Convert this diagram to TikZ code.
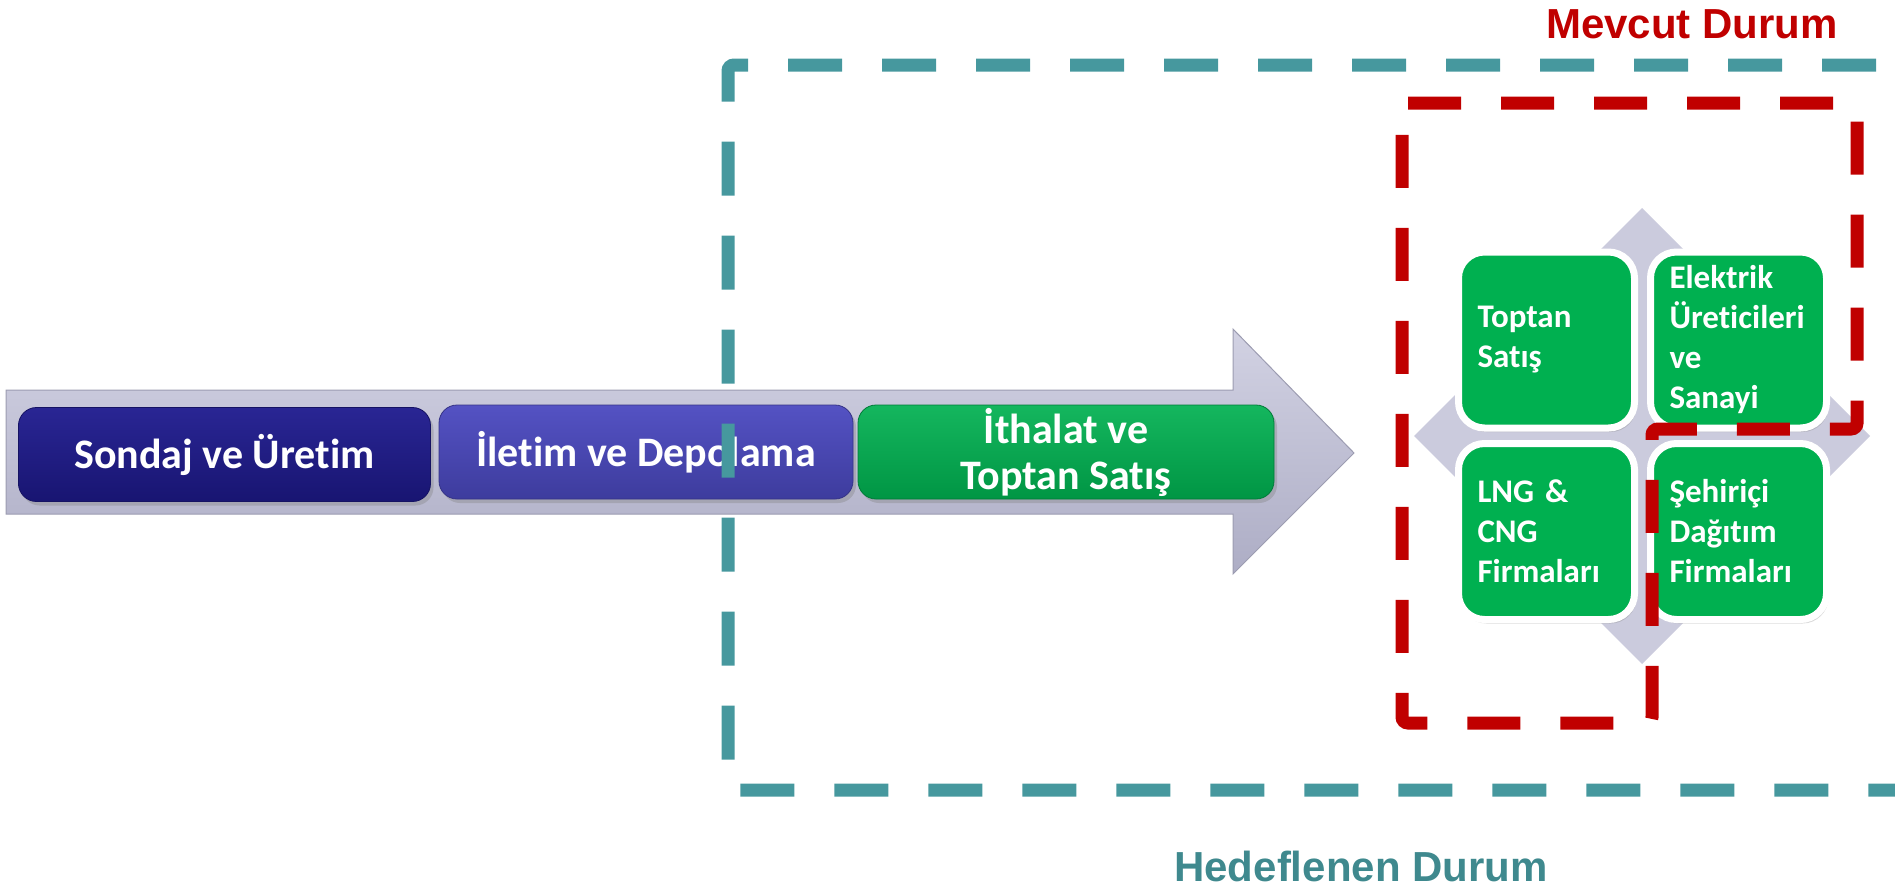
\documentclass[tikz,border=0pt]{standalone}
\usepackage{fontspec}
\setmainfont{Carlito}[Ligatures=NoCommon]
\newfontfamily\labelfont{Liberation Sans}
\usetikzlibrary{shadows}

\definecolor{tealline}{HTML}{46989E}
\definecolor{redline}{HTML}{C00000}
\definecolor{arrowtop}{HTML}{D2D2E3}
\definecolor{arrowbot}{HTML}{ADADC5}
\definecolor{diamondgray}{HTML}{CBCBDD}
\definecolor{navybox}{HTML}{1E1A8E}
\definecolor{bluebox}{HTML}{4B49C0}
\definecolor{greenbox}{HTML}{00B050}

\begin{document}
\begin{tikzpicture}[x=0.5pt, y=-0.5pt,
    stagebox/.style={rounded corners=9pt, minimum height=47pt, inner sep=0pt,
        text=white, align=center, font=\fontsize{21}{23}\selectfont\bfseries,
        drop shadow={opacity=0.35, shadow xshift=1.5pt, shadow yshift=-2pt}},
    gridbox/.style={draw=white, line width=3.5pt, fill=greenbox, rounded corners=13pt,
        minimum height=88pt, text width=69pt, inner xsep=9.5pt, inner ysep=0pt,
        align=left, text=white, font=\fontsize{16.5}{20}\selectfont\bfseries,
        drop shadow={opacity=0.3, shadow xshift=1pt, shadow yshift=-2pt}},
    dashline/.style={line width=6.5pt, dash pattern=on 27pt off 20pt, rounded corners=3pt},
    caption/.style={font=\labelfont\bfseries\fontsize{21}{25}\selectfont}]

                \useasboundingbox (0,0) rectangle (1895,890);

                \draw[arrowbot!90!black, line width=0.5pt, top color=arrowtop, bottom color=arrowbot]
                    (6,390) -- (1233,390) -- (1233,329) -- (1354,453) -- (1233,574) -- (1233,514) -- (6,514) -- cycle;

                \node[stagebox, minimum width=206pt, draw=navybox!70!black, top color=navybox!95!white, bottom color=navybox!80!black]
                    (sondaj) at (224.5,454.5) {Sondaj ve Üretim};
                \node[stagebox, minimum width=207pt, draw=bluebox!70!black, top color=bluebox!95!white, bottom color=bluebox!82!black]
                    (iletim) at (646,452) {İletim ve Depolama};
                \node[stagebox, minimum width=208pt, draw=greenbox!70!black, top color=greenbox!92!white, bottom color=greenbox!85!black]
                    (ithalat) at (1066,452) {İthalat ve\\Toptan Satış};

                \fill[diamondgray] (1642,208) -- (1870,436) -- (1642,664) -- (1414,436) -- cycle;

                \node[gridbox] (toptan) at (1546.5,340) {Toptan\\Satış};
                \node[gridbox] (elektrik) at (1738.5,340) {Elektrik\\Üreticileri\\ve\\Sanayi};
                \node[gridbox] (lng) at (1546.5,531.5) {LNG \&\\CNG\\Firmaları};
                \node[gridbox] (sehirici) at (1738.5,531.5) {Şehiriçi\\Dağıtım\\Firmaları};

                \draw[dashline, tealline, dash phase=37.5pt] (1895,65) -- (728,65) -- (728,790) -- (1895,790);
                \draw[dashline, redline, dash pattern=on 26.5pt off 20pt]
                    (1402,103) -- (1857,103) -- (1857,429) -- (1652,429) -- (1652,723) -- (1402,723) -- cycle;

                \node[caption, text=redline] (mevcut) at (1692,24) {Mevcut Durum};
                \node[caption, text=tealline!90!black] (hedef) at (1361,866) {Hedeflenen Durum};

            \end{tikzpicture}
\end{document}
